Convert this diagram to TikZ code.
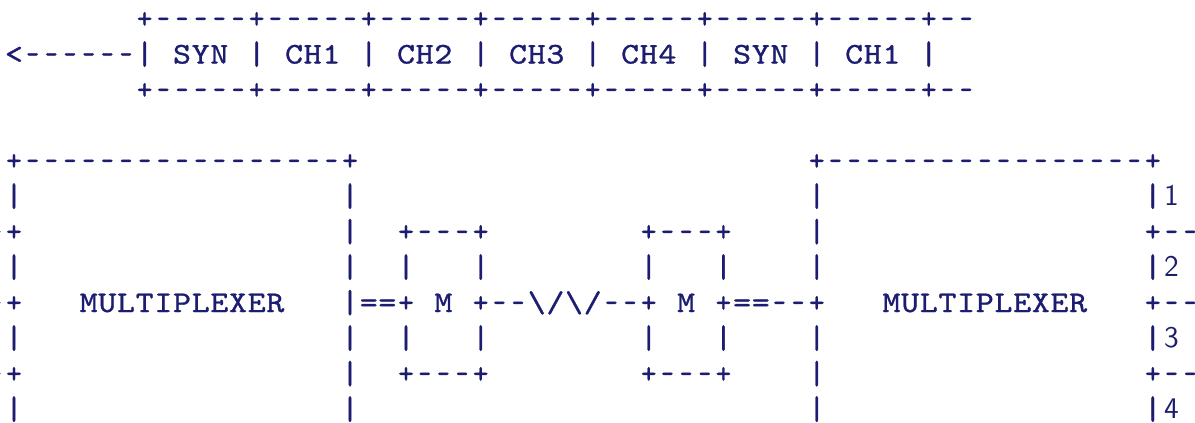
\documentclass[tikz,border=0pt]{standalone}
\usepackage{graphicx}
\usepackage{fontspec}
% typewriter face, widened to Courier-like proportions
\newfontfamily\cour{lmmono10-regular.otf}[FakeStretch=1.14,FakeBold=1]
\definecolor{ink}{RGB}{28,28,112}

% one fixed-width cell per character; '.' stands for a blank cell
\newlength\cw
\setlength\cw{9.335pt}
\def\tallbar{\raisebox{-0.35pt}{\scalebox{1}[1.1]{|}}}
\def\shortdash{\scalebox{0.72}[1]{-}}
\def\narrowplus{\scalebox{0.88}[1]{+}}
\def\asc#1{\ascstep#1\relax}
\def\ascstep#1{\ifx\relax#1\else\asccell{#1}\expandafter\ascstep\fi}
\def\asccell#1{\makebox[\cw][c]{%
  \ifx.#1\else
  \ifx|#1\tallbar\else
  \ifx-#1\shortdash\else
  \ifx+#1\narrowplus\else
  #1\fi\fi\fi\fi}}
\let\bs\textbackslash

\tikzset{
  line/.style={anchor=base west, inner sep=0pt, outer sep=0pt, text=ink,
    font=\fontsize{15}{18}\selectfont\cour},
  digit/.style={anchor=base west, inner sep=0pt, outer sep=0pt, text=ink,
    font=\fontsize{15}{18}\selectfont\sffamily}
}
% column c, text row r  ->  position of the cell's left edge on the baseline
\def\at#1#2{({2.33+9.335*(#1)},{14+17.75*(#2)})}

\begin{document}
\begin{tikzpicture}[x=1pt,y=-1pt]
\useasboundingbox (0,0) rectangle (597.5,211.5);
\clip (0,0) rectangle (597.5,211.5);

% frame sequence
\node[line] (r0) at \at{7}{0} {\asc{+-----+-----+-----+-----+-----+-----+-----+--}};
\node[line] (r1) at \at{0}{1} {\asc{<------|.SYN.|.CH1.|.CH2.|.CH3.|.CH4.|.SYN.|.CH1.|}};
\node[line] (r2) at \at{7}{2} {\asc{+-----+-----+-----+-----+-----+-----+-----+--}};

% multiplexers, modems and line
\node[line] (r4) at \at{0}{4} {\asc{+-----------------+........................+-----------------+}};
\node[line] (r5) at \at{0}{5} {\asc{|.................|........................|.................|}};
\node[line] (r6) at \at{-1}{6} {\asc{-+.................|..+---+........+---+....|.................+--}};
\node[line] (r7) at \at{0}{7} {\asc{|.................|..|...|........|...|....|.................|}};
\node[line] (r8) at \at{-1}{8} {\asc{-+...MULTIPLEXER...|==+.M.+--\bs/\bs/--+.M.+==--+...MULTIPLEXER...+--}};
\node[line] (r9) at \at{0}{9} {\asc{|.................|..|...|........|...|....|.................|}};
\node[line] (r10) at \at{-1}{10} {\asc{-+.................|..+---+........+---+....|.................+--}};
\node[line] (r11) at \at{0}{11} {\asc{|.................|........................|.................|}};

% channel numbers
\node[digit] (p1) at \at{62}{5} {\makebox[\cw][c]{1}};
\node[digit] (p2) at \at{62}{7} {\makebox[\cw][c]{2}};
\node[digit] (p3) at \at{62}{9} {\makebox[\cw][c]{3}};
\node[digit] (p4) at \at{62}{11} {\makebox[\cw][c]{4}};
\end{tikzpicture}
\end{document}
